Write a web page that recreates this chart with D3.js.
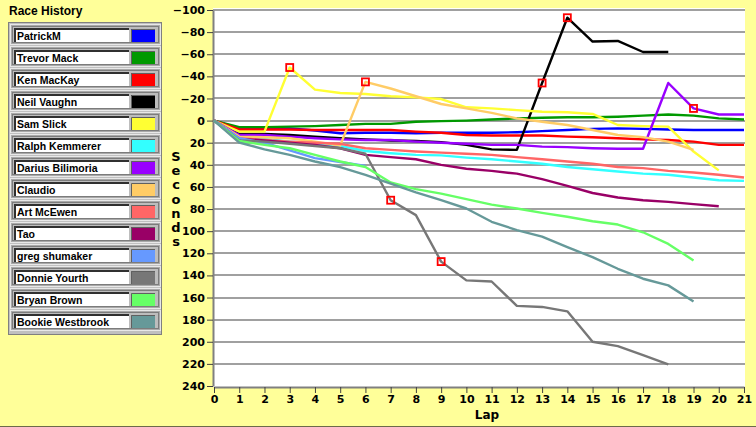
<!DOCTYPE html>
<html lang="en">
<head>
<meta charset="UTF-8"/>
<title>Race History</title>
<script src="https://d3js.org/d3.v7.min.js"></script>
<style>
  body { margin: 0; background: #ffff99; }
  svg { display: block; }
</style>
</head>
<body>
<script>
    // seconds behind the leader after each lap (negative = ahead)
    var drivers = ["PatrickM", "Trevor Mack", "Ken MacKay", "Neil Vaughn", "Sam Slick",
        "Ralph Kemmerer", "Darius Bilimoria", "Claudio", "Art McEwen", "Tao",
        "greg shumaker", "Donnie Yourth", "Bryan Brown", "Bookie Westbrook"];
    var colors = ["#0000ff", "#009900", "#ff0000", "#000000", "#ffff33",
        "#33ffff", "#9900ff", "#ffcc66", "#ff6666", "#990066",
        "#6699ff", "#777777", "#66ff66", "#669999"];

    var patrickM = [0,7,7,7,9,11.5,11,11,11.5,11,11,11,10.5,9.5,8.5,7.5,7,7.5,8,8.5,8.5,8.5];
    var trevorMack = [0,6,6,5.5,5,4,3,3,1,0.5,0,-1,-2,-2.5,-3,-3,-3.5,-4.5,-5.5,-4.5,-2,-1];
    var kenMacKay = [0,8,8,8,8.5,8.5,8.5,8.5,10,11,13,13.5,13.5,13.5,14.5,15,16,17,17.5,19,22,22];
    var neilVaughn = [0,12,12,13,14.5,16,17,18,18.5,19.5,22,26,26.5,-34,-93,-71.5,-72,-62,-62];
    var samSlick = [0,10,10,-48,-28,-25,-24,-22,-21,-19.5,-12,-11,-9.5,-8,-7.5,-6,4,5,5.5,28,45];
    var ralphKemmerer = [0,15,16.5,19,20.5,23,27.5,29.5,31,31.5,33.5,35,37,39,42,44,46,48,49,51.5,54,54.5];
    var dariusBilimoria = [0,13,13,14.5,16,17,17.5,17.5,19,20,21,22,22,23.5,24,25,25.5,25.5,-34,-11,-5.5,-5.5];
    var claudio = [0,14.5,15,16,19,22.5,-35,-29,-22,-15,-11,-7,-2,1,4,8.5,13,15,19,26.5];
    var artMcEwen = [0,16,17.5,19,20,21,25,26.5,28,29,30,31,33,35,37,39,42,43,45.5,47,49,51.5];
    var tao = [0,16.5,18,20,22,25,31,33,35,40,43.5,45.5,48,53,59,65.5,69.5,72,73.5,75.5,77.5];
    var gregShumaker = [0,16,20,27,34,37.5,41];
    var donnieYourth = [0,18,19,21,23,25,30,72,85.5,127.5,144.5,145.5,167.5,168.5,172.5,200,204,212,220.5];
    var bryanBrown = [0,18.5,22,25,31,37,42,56,62,66,71,76,79.5,83.5,87,91,94,101,111.5,126.5];
    var bookieWestbrook = [0,20,26,31,37,42,49,57,65,72,79.5,91.5,99,105,114.5,123.5,134,143,149,163.5];

    var series = [patrickM, trevorMack, kenMacKay, neilVaughn, samSlick, ralphKemmerer,
        dariusBilimoria, claudio, artMcEwen, tao, gregShumaker, donnieYourth,
        bryanBrown, bookieWestbrook];

    // flagged laps: [driver index, lap]
    var flags = [[4,3],[7,6],[11,7],[11,9],[3,13],[3,14],[6,19]];

    var yTicks = d3.range(-100, 241, 20);
    var xTicks = d3.range(0, 22);

    var w = 756, h = 427;

    var x = d3.scaleLinear().domain([0, 21]).range([214, 744]);
    var y = d3.scaleLinear().domain([-100, 240]).range([10, 386]);

    var svg = d3.select("body")
        .append("svg")
        .attr("width", w)
        .attr("height", h);

    svg.append("rect")
        .attr("width", w)
        .attr("height", h)
        .attr("fill", "#ffff99");

    svg.append("line")
        .attr("x1", 0).attr("x2", w)
        .attr("y1", 426.5).attr("y2", 426.5)
        .attr("stroke", "#6b6b4a");

    // legend
    svg.append("text")
        .attr("x", 9)
        .attr("y", 15)
        .attr("font-family", "Liberation Sans, Arial, sans-serif")
        .attr("font-weight", "bold")
        .attr("font-size", "12px")
        .text("Race History");

    svg.append("rect")
        .attr("x", 8.5).attr("y", 22.5)
        .attr("width", 153).attr("height", 312)
        .attr("fill", "#c0c0c0")
        .attr("stroke", "#808080");

    var item = svg.selectAll(".item")
        .data(drivers)
        .enter()
        .append("g")
        .attr("class", "item")
        .attr("transform", function(d, i) { return "translate(0," + (24 + i * 22) + ")"; });

    item.append("rect")
        .attr("x", 10.5).attr("y", 0.5)
        .attr("width", 150).attr("height", 20)
        .attr("fill", "#a9a9a9")
        .attr("stroke", "#e8e8e8");
    item.append("rect")
        .attr("x", 12.5).attr("y", 2.5)
        .attr("width", 146).attr("height", 16)
        .attr("fill", "#bdbdbd")
        .attr("stroke", "#7c7c7c");
    item.append("rect")
        .attr("x", 15).attr("y", 5)
        .attr("width", 114).attr("height", 13)
        .attr("fill", "#ffffff");
    item.append("path")
        .attr("d", "M15,18V5H129")
        .attr("fill", "none")
        .attr("stroke", "#303030")
        .attr("stroke-width", 2);
    item.append("rect")
        .attr("x", 131).attr("y", 5)
        .attr("width", 24).attr("height", 13)
        .attr("fill", function(d, i) { return colors[i]; });
    item.append("path")
        .attr("d", "M131.5,18V5.5H155")
        .attr("fill", "none")
        .attr("stroke", "#606060");
    item.append("text")
        .attr("x", 17)
        .attr("y", 15.5)
        .attr("font-family", "Liberation Sans, Arial, sans-serif")
        .attr("font-weight", "bold")
        .attr("font-size", "10.5px")
        .text(function(d) { return d; });

    // plot area
    svg.append("rect")
        .attr("x", 213).attr("y", 8)
        .attr("width", 532).attr("height", 379)
        .attr("fill", "#ffffff");

    svg.append("g")
        .selectAll("line")
        .data(yTicks.slice(0, -1))
        .enter()
        .append("line")
        .attr("x1", 213).attr("x2", 745)
        .attr("y1", function(d) { return Math.round(y(d)); })
        .attr("y2", function(d) { return Math.round(y(d)); })
        .attr("stroke", "#a0a0a0")
        .attr("stroke-width", 2);

    var yAxis = svg.append("g")
        .attr("transform", "translate(213,0)")
        .call(d3.axisLeft(y).tickValues(yTicks).tickSize(6).tickSizeOuter(0).tickPadding(2));
    var xAxis = svg.append("g")
        .attr("transform", "translate(0,387)")
        .call(d3.axisBottom(x).tickValues(xTicks).tickSize(6).tickSizeOuter(0).tickPadding(2));

    [yAxis, xAxis].forEach(function(a) {
        a.select(".domain").attr("stroke", "#808080").attr("stroke-width", 2);
        a.selectAll(".tick line").attr("stroke", "#404040");
        a.selectAll(".tick text")
            .attr("fill", "#000")
            .attr("font-family", "DejaVu Sans, Verdana, sans-serif")
            .attr("font-weight", "bold")
            .attr("font-size", "11px");
    });

    svg.append("text")
        .attr("x", 487)
        .attr("y", 419)
        .attr("text-anchor", "middle")
        .attr("font-family", "DejaVu Sans, Verdana, sans-serif")
        .attr("font-weight", "bold")
        .attr("font-size", "12px")
        .text("Lap");

    svg.append("g")
        .selectAll("text")
        .data("Seconds".split(""))
        .enter()
        .append("text")
        .attr("x", 176)
        .attr("y", function(d, i) { return 161 + i * 14.2; })
        .attr("text-anchor", "middle")
        .attr("font-family", "DejaVu Sans, Verdana, sans-serif")
        .attr("font-weight", "bold")
        .attr("font-size", "13px")
        .text(function(d) { return d; });

    // race lines
    var line = d3.line()
        .x(function(d, i) { return x(i); })
        .y(function(d) { return y(d); });

    svg.append("g")
        .selectAll("path")
        .data(series)
        .enter()
        .append("path")
        .attr("d", line)
        .attr("fill", "none")
        .attr("stroke", function(d, i) { return colors[i]; })
        .attr("stroke-width", 2.4)
        .attr("stroke-linejoin", "round");

    svg.append("g")
        .selectAll("rect")
        .data(flags)
        .enter()
        .append("rect")
        .attr("x", function(d) { return x(d[1]) - 3.5; })
        .attr("y", function(d) { return y(series[d[0]][d[1]]) - 3.5; })
        .attr("width", 7)
        .attr("height", 7)
        .attr("fill", "none")
        .attr("stroke", "#ff0000")
        .attr("stroke-width", 1.8);
</script>
</body>
</html>
